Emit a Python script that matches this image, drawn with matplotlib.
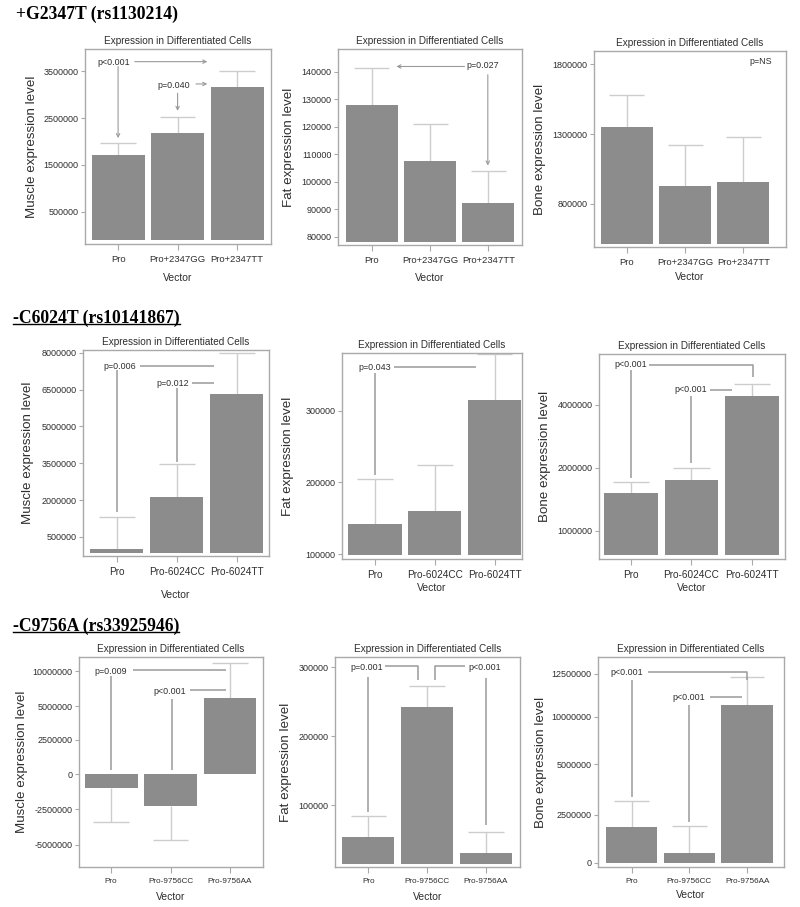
import numpy as np
import matplotlib
matplotlib.use('Agg')
import matplotlib.pyplot as plt
from matplotlib.lines import Line2D
from matplotlib.ticker import NullLocator

W, H = 800, 907

# ---- data ----
headers = ['+G2347T (rs1130214)', '-C6024T (rs10141867)', '-C9756A (rs33925946)']
vectors_g2347 = ['Pro', 'Pro+2347GG', 'Pro+2347TT']
vectors_c6024 = ['Pro', 'Pro-6024CC', 'Pro-6024TT']
vectors_c9756 = ['Pro', 'Pro-9756CC', 'Pro-9756AA']

# bar value and end of the error bar, per vector
g2347_muscle = [1715000, 2184000, 3158000]
g2347_muscle_err = [1978000, 2518000, 3500000]
g2347_fat = [127800, 107500, 92400]
g2347_fat_err = [141600, 121000, 103900]
g2347_bone = [1348000, 929000, 955000]
g2347_bone_err = [1582000, 1221000, 1276000]

c6024_muscle = [25000, 2130000, 6300000]
c6024_muscle_err = [1315000, 3450000, 8000000]
c6024_fat = [141900, 160500, 314900]
c6024_fat_err = [205100, 223700, 379000]
c6024_bone = [1514000, 1740000, 4433000]
c6024_bone_err = [1708000, 1993000, 5060000]

c9756_muscle = [-952000, -2286000, 6250000]
c9756_muscle_err = [-3396000, -4690000, 11250000]
c9756_fat = [54200, 242200, 31100]
c9756_fat_err = [84100, 272000, 61000]
c9756_bone = [1862000, 517000, 10690000]
c9756_bone_err = [3180000, 1914000, 12310000]

# ---- style ----
plt.rcParams['font.family'] = ['Liberation Sans', 'DejaVu Sans']
BAR = '#8c8c8c'
ERR = '#cdcdcd'
NOTE = '#9a9a9a'
SPINE = '#a9a9a9'
TXT = '#2e2e2e'


def piecewise(vals, pos):
    vals = np.array(vals, float)
    pos = np.array(pos, float)
    return (lambda v: np.interp(v, vals, pos), lambda p: np.interp(p, pos, vals))


# the axes in the last row are not linear between their tick marks
muscle3_scale = piecewise([-10e6, -5e6, -2.5e6, 0, 2.5e6, 5e6, 10e6, 20e6],
                          [-4.03, -2.01, -1.0, 0, 0.99, 1.94, 2.94, 4.94])
bone3_scale = piecewise([-5e6, 0, 2.5e6, 5e6, 10e6, 12.5e6, 25e6],
                        [-2.0, 0, 1.0, 2.034, 3.02, 3.90, 8.3])

# annotation marks: ('t', x, y, text) / ('a', start, end) arrow / ('l', points) line
notes1 = [('t', -0.08, 3691000, 'p<0.001'), ('a', (0.28, 3705000), (1.5, 3705000)),
          ('a', (0, 3599000), (0, 2071000)),
          ('t', 0.94, 3187000, 'p=0.040'), ('a', (1.31, 3229000), (1.5, 3229000)),
          ('a', (1, 3030000), (1, 2653000))]
notes2 = [('t', 1.91, 142300, 'p=0.027'), ('a', (1.59, 142000), (0.42, 142000)),
          ('a', (1.99, 139000), (1.99, 105900))]
notes3 = [('t', 2.29, 1821000, 'p=NS')]
notes4 = [('t', 0.05, 7457000, 'p=0.006'), ('l', [(0.39, 7457000), (1.62, 7457000)]),
          ('l', [(0, 7293000), (0, 1519000)]),
          ('t', 0.94, 6750000, 'p=0.012'), ('l', [(1.26, 6750000), (1.62, 6750000)]),
          ('l', [(1, 6546000), (1, 3557000)])]
notes5 = [('t', 0.0, 360500, 'p=0.043'), ('l', [(0.31, 360500), (1.69, 360500)]),
          ('l', [(0, 352000), (0, 210200)])]
notes6 = [('t', 0.0, 6210000, 'p<0.001'),
          ('l', [(0.30, 6210000), (2.02, 6210000), (2.02, 5420000)]),
          ('l', [(0, 5880000), (0, 1785000)]),
          ('t', 0.99, 4720000, 'p<0.001'), ('l', [(1.31, 4720000), (1.67, 4720000)]),
          ('l', [(1, 4420000), (1, 2105000)])]
notes7 = [('t', 0.0, 10000000, 'p=0.009'), ('l', [(0.375, 10150000), (1.94, 10150000)]),
          ('l', [(0, 9300000), (0, 288000)]),
          ('t', 0.98, 7060000, 'p<0.001'), ('l', [(1.33, 7400000), (1.94, 7400000)]),
          ('l', [(1.02, 6110000), (1.02, 288000)])]
notes8 = [('t', -0.03, 300000, 'p=0.001'),
          ('l', [(0.28, 301400), (0.85, 301400), (0.85, 280700)]),
          ('l', [(0, 285800), (0, 90400)]),
          ('t', 1.98, 300000, 'p<0.001'),
          ('l', [(1.64, 301400), (1.14, 301400), (1.14, 280700)]),
          ('l', [(2, 284600), (2, 71100)])]
notes9 = [('t', -0.08, 12580000, 'p<0.001'),
          ('l', [(0.28, 12640000), (2.0, 12640000), (2.0, 12150000)]),
          ('l', [(0, 12150000), (0, 3380000)]),
          ('t', 0.99, 11110000, 'p<0.001'), ('l', [(1.35, 11170000), (1.91, 11170000)]),
          ('l', [(1, 10680000), (1, 2120000)])]

panels = [
    dict(rect=(85, 49, 271, 244), cats=vectors_g2347, vals=g2347_muscle, err=g2347_muscle_err,
         base=-100000, ylim=(-189000, 3975000), yticks=[500000, 1500000, 2500000, 3500000],
         xlim=(-0.556, 2.57), ylabel='Muscle expression level', ylx=32, vy=278, xfs=6.8,
         notes=notes1),
    dict(rect=(338, 49, 522, 245), cats=vectors_g2347, vals=g2347_fat, err=g2347_fat_err,
         base=78170, ylim=(76960, 148370), yticks=list(range(80000, 140001, 10000)),
         xlim=(-0.583, 2.577), ylabel='Fat expression level', ylx=289, vy=278, xfs=6.8,
         notes=notes2),
    dict(rect=(594, 51, 786, 247), cats=vectors_g2347, vals=g2347_bone, err=g2347_bone_err,
         base=513000, ylim=(489000, 1896000), yticks=[800000, 1300000, 1800000],
         xlim=(-0.56, 2.73), ylabel='Bone expression level', ylx=540, vy=277, xfs=6.8,
         notes=notes3),
    dict(rect=(83, 350, 269, 556), cats=vectors_c6024, vals=c6024_muscle, err=c6024_muscle_err,
         base=-152000, ylim=(-274000, 8109000), yticks=list(range(500000, 8000001, 1500000)),
         xlim=(-0.56, 2.54), ylabel='Muscle expression level', ylx=28, vy=595, xfs=7.2,
         notes=notes4),
    dict(rect=(342, 353, 522, 559), cats=vectors_c6024, vals=c6024_fat, err=c6024_fat_err,
         base=98600, ylim=(93500, 380000), yticks=[100000, 200000, 300000],
         xlim=(-0.553, 2.46), ylabel='Fat expression level', ylx=288, vy=588, xfs=7.2,
         notes=notes5),
    dict(rect=(599, 354, 785, 559), cats=vectors_c6024, vals=c6024_bone, err=c6024_bone_err,
         base=762000, ylim=(732000, 7010000), yticks=[1000000, 2000000, 4000000],
         xlim=(-0.53, 2.55), ylabel='Bone expression level', ylx=545, vy=588, xfs=7.2,
         notes=notes6, scale='log'),
    dict(rect=(79, 657, 263, 867), cats=vectors_c9756, vals=c9756_muscle, err=c9756_muscle_err,
         base=0, ylim=(-6580000, 12050000),
         yticks=[-5000000, -2500000, 0, 2500000, 5000000, 10000000],
         xlim=(-0.54, 2.555), ylabel='Muscle expression level', ylx=22, vy=897, xfs=5.9,
         notes=notes7, scale=muscle3_scale),
    dict(rect=(335, 657, 520, 867), cats=vectors_c9756, vals=c9756_fat, err=c9756_fat_err,
         base=15660, ylim=(10840, 314500), yticks=[100000, 200000, 300000],
         xlim=(-0.567, 2.58), ylabel='Fat expression level', ylx=286, vy=897, xfs=5.9,
         notes=notes8),
    dict(rect=(598, 657, 784, 867), cats=vectors_c9756, vals=c9756_bone, err=c9756_bone_err,
         base=0, ylim=(-207000, 13490000), yticks=[0, 2500000, 5000000, 10000000, 12500000],
         xlim=(-0.584, 2.64), ylabel='Bone expression level', ylx=541, vy=895, xfs=5.9,
         notes=notes9, scale=bone3_scale),
]

fig = plt.figure(figsize=(W / 100, H / 100), dpi=100)


def draw_notes(ax, notes):
    for n in notes:
        if n[0] == 't':
            ax.text(n[1], n[2], n[3], ha='center', va='center', fontsize=6.4, color=TXT)
        elif n[0] == 'a':
            ax.annotate('', xy=n[2], xytext=n[1],
                        arrowprops=dict(arrowstyle='->', color=NOTE, lw=0.8,
                                        shrinkA=0, shrinkB=0, mutation_scale=6))
        else:
            xs, ys = zip(*n[1])
            ax.plot(xs, ys, color=NOTE, lw=1.1, solid_capstyle='butt', zorder=4)


for p in panels:
    l, t, r, b = p['rect']
    ax = fig.add_axes([l / W, 1 - b / H, (r - l) / W, (b - t) / H])
    sc = p.get('scale', 'linear')
    if sc == 'log':
        ax.set_yscale('log', base=2)
    elif sc != 'linear':
        ax.set_yscale('function', functions=sc)
    x = np.arange(len(p['cats']))
    vals = np.array(p['vals'], float)
    ax.bar(x, vals - p['base'], bottom=p['base'], width=0.89, color=BAR, zorder=3)
    ax.vlines(x, vals, p['err'], color=ERR, lw=1.0, zorder=2)
    ax.hlines(p['err'], x - 0.3, x + 0.3, color=ERR, lw=1.0, zorder=2)
    draw_notes(ax, p['notes'])

    ax.set_xlim(*p['xlim'])
    ax.set_ylim(*p['ylim'])
    ax.set_xticks(x)
    ax.set_xticklabels(p['cats'], fontsize=p['xfs'], color=TXT)
    ax.set_yticks(p['yticks'])
    ax.set_yticklabels([str(v) for v in p['yticks']], fontsize=6.5, color=TXT)
    ax.yaxis.set_minor_locator(NullLocator())
    ax.tick_params(axis='x', length=4.3, width=0.8, color=SPINE, pad=3.5)
    ax.tick_params(axis='y', length=3.0, width=0.8, color=SPINE, pad=1.5)
    for s in ax.spines.values():
        s.set_color(SPINE)
        s.set_linewidth(1.0)
    ax.set_title('Expression in Differentiated Cells', fontsize=7.2, color=TXT, pad=3.6)
    fig.text(p['ylx'] / W, 1 - (t + b) / 2 / H, p['ylabel'], rotation=90,
             ha='center', va='center', fontsize=9.6, color=TXT)
    fig.text((l + r) / 2 / W, 1 - p['vy'] / H, 'Vector', ha='center', va='center',
             fontsize=7.5, color=TXT)

head_pos = [(16, 14, False), (13, 318, True), (13, 626, True)]
head_texts = []
for txt, (hx, hy, ul) in zip(headers, head_pos):
    head_texts.append(fig.text(hx / W, 1 - hy / H, txt, ha='left', va='center',
                               family='Liberation Serif', fontweight='bold',
                               fontsize=12.7, color='black'))

fig.canvas.draw()
renderer = fig.canvas.get_renderer()
for ht, (hx, hy, ul) in zip(head_texts, head_pos):
    if ul:
        bb = ht.get_window_extent(renderer)
        yl = 1 - (hy + 6) / H
        fig.add_artist(Line2D([bb.x0 / W, bb.x1 / W], [yl, yl], color='black', lw=1.0))

fig.savefig('out.png', dpi=100)
